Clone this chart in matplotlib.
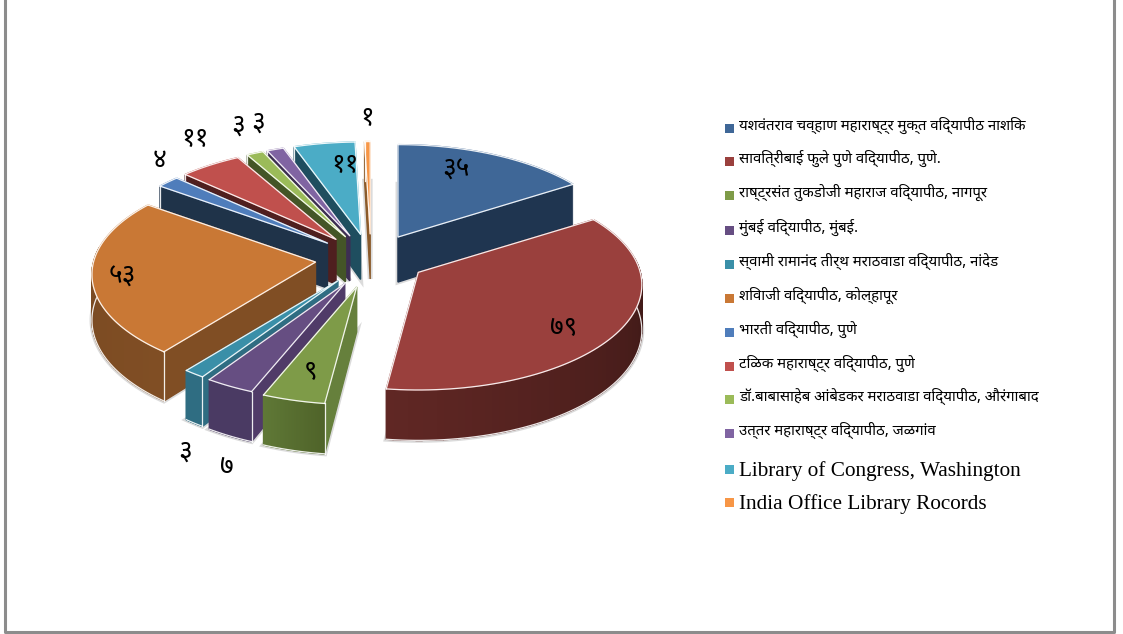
"""Exploded 3D pie of thesis counts per university, drawn by hand with polygons."""
import numpy as np
import matplotlib
matplotlib.use("Agg")
import matplotlib.pyplot as plt
from matplotlib.patches import Polygon, Rectangle

# data
universities = [
    "यशवंतराव चव्हाण महाराष्ट्र मुक्त विद्यापीठ नाशिक",
    "सावित्रीबाई फुले पुणे विद्यापीठ, पुणे.",
    "राष्ट्रसंत तुकडोजी महाराज विद्यापीठ, नागपूर",
    "मुंबई विद्यापीठ, मुंबई.",
    "स्वामी रामानंद तीर्थ मराठवाडा विद्यापीठ, नांदेड",
    "शिवाजी विद्यापीठ, कोल्हापूर",
    "भारती विद्यापीठ, पुणे",
    "टिळक महाराष्ट्र विद्यापीठ, पुणे",
    "डॉ.बाबासाहेब आंबेडकर मराठवाडा विद्यापीठ, औरंगाबाद",
    "उत्तर महाराष्ट्र विद्यापीठ, जळगांव",
    "Library of Congress, Washington",
    "India Office Library Rocords",
]
counts = [35, 79, 9, 7, 3, 53, 4, 11, 3, 3, 11, 1]

# colours: top face, radial side, outer side at start and end of the arc
top_colors = ["#3F6797", "#9A403D", "#7E9B48", "#664E82", "#3A8FA8", "#C97835",
              "#4F7DBB", "#C0504D", "#9BBB59", "#8064A2", "#4BACC6", "#F79646"]
side_colors = ["#1F3550", "#4A1C1A", "#66803C", "#503B68", "#2F6D82", "#804E24",
               "#1F3349", "#4F1F1F", "#445527", "#3D2E53", "#1F4E5F", "#8A5A2A"]
arc_left = ["#1F3550", "#3C1816", "#4F6329", "#4A3A63", "#2F6D82", "#804E24",
            "#1F3349", "#4F1F1F", "#445527", "#3D2E53", "#1F4E5F", "#8A5A2A"]
arc_right = ["#1F3550", "#602724", "#5F7836", "#4A3A63", "#2F6D82", "#7A4A22",
             "#1F3349", "#4F1F1F", "#445527", "#3D2E53", "#1F4E5F", "#8A5A2A"]

# pixel positions of the value labels and legend rows
label_xy = [(456, 170), (564, 328), (311, 371), (227, 467), (185, 452), (122, 277),
            (160, 161), (195, 139), (238, 126), (258, 123), (345, 165), (367, 118)]
legend_y = [127, 160, 194, 229, 263, 297, 331, 365, 398, 432, 470, 503]

# pie geometry in pixels
CX, CY = 371, 258.7
RX, RY = 222, 105
PERSP = 0.12
EX, EY = 56, 24.7
DEPTH = 45

DEVA = ["Noto Sans Devanagari", "Hind", "Mukta", "DejaVu Sans"]
DIGITS = str.maketrans("0123456789", "०१२३४५६७८९")


def edge_offset(theta):
    s, c = np.sin(theta), np.cos(theta)
    p = 1 - PERSP * c
    return RX * s * p, -RY * c * p, DEPTH * p


fig = plt.figure(figsize=(11.23, 6.34), dpi=100)
ax = fig.add_axes([0, 0, 1, 1])
ax.set_xlim(0, 1123)
ax.set_ylim(634, 0)
ax.axis("off")

# frame
ax.plot([5, 5, 1113.5, 1113.5], [0, 632, 632, 0], color="#8C8C8C", lw=2.2, zorder=1)

edges = np.cumsum([0] + counts) / sum(counts) * 2 * np.pi
order = sorted(range(len(counts)), key=lambda i: -np.cos((edges[i] + edges[i + 1]) / 2))

faces = []
for i in order:
    t1, t2 = edges[i], edges[i + 1]
    mid = (t1 + t2) / 2
    ax0 = CX + EX * np.sin(mid)
    ay0 = CY - EY * np.cos(mid) + 5 * min(np.cos(mid), 0) ** 4

    ts = np.linspace(t1, t2, 80)
    dx, dy, dd = edge_offset(ts)
    rim_x = ax0 + dx
    rim_y = ay0 + dy

    # radial sides that face the viewer
    if np.sin(t1) < 0:
        faces.append(([(ax0, ay0), (rim_x[0], rim_y[0]),
                       (rim_x[0], rim_y[0] + dd[0]), (ax0, ay0 + DEPTH)], side_colors[i], i))
    if np.sin(t2) > 0:
        faces.append(([(ax0, ay0), (rim_x[-1], rim_y[-1]),
                       (rim_x[-1], rim_y[-1] + dd[-1]), (ax0, ay0 + DEPTH)], side_colors[i], i))

    # outer wall, the front half and a bit past the widest point, in small strips
    front = np.cos(ts) < 0.15
    if front.sum() > 1:
        fx, fy, fd = rim_x[front], rim_y[front], dd[front]
        c0 = np.array(matplotlib.colors.to_rgb(arc_right[i]))
        c1 = np.array(matplotlib.colors.to_rgb(arc_left[i]))
        for k in range(len(fx) - 1):
            f = k / max(len(fx) - 2, 1)
            col = c1 * (1 - f) + c0 * f
            faces.append(([(fx[k], fy[k]), (fx[k + 1], fy[k + 1]),
                           (fx[k + 1], fy[k + 1] + fd[k + 1]), (fx[k], fy[k] + fd[k])], col, i))
        # bottom rim goes under the top face so its ends stay hidden
        faces.append((list(zip(fx, fy + fd)), "rim", i))

    # top face
    faces.append(([(ax0, ay0)] + list(zip(rim_x, rim_y)), top_colors[i], i))

    # soft shadow halo round the body
    ax.add_patch(Polygon([(ax0, ay0 + DEPTH)] + list(zip(rim_x, rim_y + dd)), closed=True,
                         fc="none", ec="#808080", lw=3.5, alpha=0.28, zorder=2))

    # white rim lines
    faces.append((list(zip(rim_x, rim_y)), "rim", i))
    faces.append(([(rim_x[-1], rim_y[-1]), (ax0, ay0), (rim_x[0], rim_y[0])], "rim", i))
    if np.sin(t1) < 0:
        faces.append(([(rim_x[0], rim_y[0]), (rim_x[0], rim_y[0] + dd[0])], "rim", i))
    if np.sin(t2) > 0:
        faces.append(([(rim_x[-1], rim_y[-1]), (rim_x[-1], rim_y[-1] + dd[-1])], "rim", i))

for z, (pts, col, i) in enumerate(faces):
    if isinstance(col, str) and col == "rim":
        px, py = zip(*pts)
        ax.plot(px, py, color="white", lw=0.9, alpha=0.9, zorder=3 + z * 1e-3,
                solid_joinstyle="round")
    else:
        # edge in the fill colour so the wall strips leave no seams
        ax.add_patch(Polygon(pts, closed=True, fc=col, ec=col, lw=1.0, zorder=3 + z * 1e-3))

# value labels in Devanagari digits
for value, (lx, ly) in zip(counts, label_xy):
    ax.text(lx, ly, str(value).translate(DIGITS), family=DEVA, fontsize=19, color="black",
            ha="center", va="center", zorder=10)

# legend
for name, col, ly in zip(universities, top_colors, legend_y):
    if name.isascii():
        ax.add_patch(Rectangle((725, ly - 5), 8.5, 8.5, fc=col, ec="none", zorder=5))
        ax.text(739, ly + 1, name, family="Liberation Serif", fontsize=15.3, va="center", color="black")
    else:
        ax.add_patch(Rectangle((725, ly - 3), 8.5, 8.5, fc=col, ec="none", zorder=5))
        ax.text(739, ly - 2, name, family=DEVA, fontsize=10.8, va="center", color="black")

fig.savefig("out.png", dpi=100)
